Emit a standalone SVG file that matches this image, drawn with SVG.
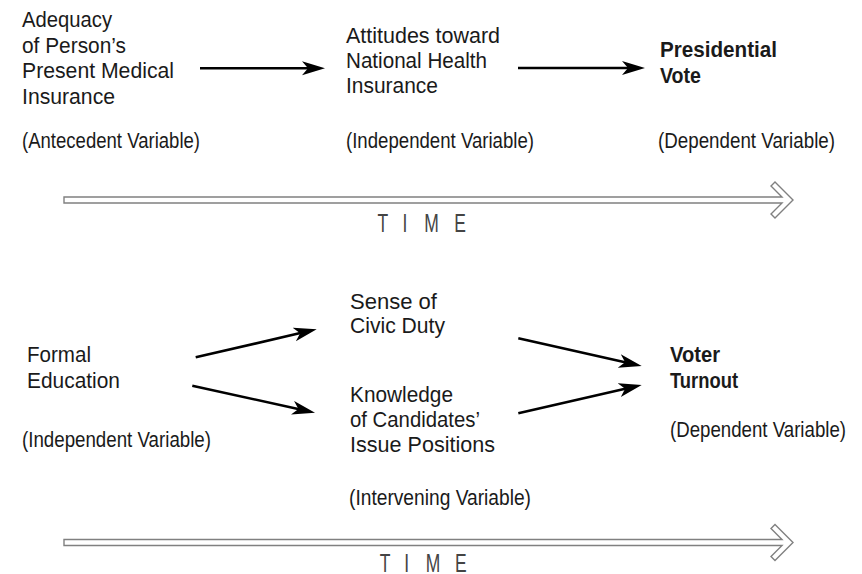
<svg xmlns="http://www.w3.org/2000/svg" width="862" height="574" viewBox="0 0 862 574">
<style>
.t{font-family:"Liberation Sans",Arial,sans-serif;font-size:22px;fill:#1a1a1a}
.b{font-weight:bold}
.tm{font-family:"Liberation Sans",Arial,sans-serif;font-size:25px;fill:#444;text-anchor:middle}
.c{stroke:#000;stroke-width:2.6;fill:none}
.ta{fill:#fff;stroke:#808080;stroke-width:1.4;stroke-linejoin:miter}
</style>
<defs>
<marker id="ah" markerUnits="userSpaceOnUse" markerWidth="26" markerHeight="16" refX="15" refY="7" orient="auto">
<path d="M0,0 L23,7 L0,14 L6,7 Z" fill="#000"/>
</marker>
<path id="timearrow" d="M64,-3 L782,-3 L771,-14 L775,-18 L793,0 L775,18 L771,14 L782,3 L64,3 Z"/>
</defs>
<rect width="862" height="574" fill="#fff"/>

<g id="adequacy">
<text class="t" x="22" y="27.3" textLength="90" lengthAdjust="spacingAndGlyphs">Adequacy</text>
<text class="t" x="22" y="52.7" textLength="104" lengthAdjust="spacingAndGlyphs">of Person’s</text>
<text class="t" x="22" y="78.3" textLength="152" lengthAdjust="spacingAndGlyphs">Present Medical</text>
<text class="t" x="22" y="103.5" textLength="93" lengthAdjust="spacingAndGlyphs">Insurance</text>
<text class="t" x="22" y="148" textLength="178" lengthAdjust="spacingAndGlyphs">(Antecedent Variable)</text>
</g>
<g id="attitudes">
<text class="t" x="346" y="42.7" textLength="154" lengthAdjust="spacingAndGlyphs">Attitudes toward</text>
<text class="t" x="346" y="67.5" textLength="141" lengthAdjust="spacingAndGlyphs">National Health</text>
<text class="t" x="346" y="92.5" textLength="92" lengthAdjust="spacingAndGlyphs">Insurance</text>
<text class="t" x="346" y="148" textLength="188" lengthAdjust="spacingAndGlyphs">(Independent Variable)</text>
</g>
<g id="presidential">
<text class="t b" x="660" y="56.7" textLength="117" lengthAdjust="spacingAndGlyphs">Presidential</text>
<text class="t b" x="660" y="83" textLength="41" lengthAdjust="spacingAndGlyphs">Vote</text>
<text class="t" x="658" y="148" textLength="177" lengthAdjust="spacingAndGlyphs">(Dependent Variable)</text>
</g>

<g id="education">
<text class="t" x="27" y="362.3" textLength="64" lengthAdjust="spacingAndGlyphs">Formal</text>
<text class="t" x="27" y="388.3" textLength="93" lengthAdjust="spacingAndGlyphs">Education</text>
<text class="t" x="22" y="446.7" textLength="189" lengthAdjust="spacingAndGlyphs">(Independent Variable)</text>
</g>
<g id="civic">
<text class="t" x="350" y="309" textLength="87" lengthAdjust="spacingAndGlyphs">Sense of</text>
<text class="t" x="350" y="333.3" textLength="95" lengthAdjust="spacingAndGlyphs">Civic Duty</text>
</g>
<g id="knowledge">
<text class="t" x="350" y="401.7" textLength="103" lengthAdjust="spacingAndGlyphs">Knowledge</text>
<text class="t" x="350" y="426.7" textLength="130" lengthAdjust="spacingAndGlyphs">of Candidates’</text>
<text class="t" x="350" y="451.7" textLength="145" lengthAdjust="spacingAndGlyphs">Issue Positions</text>
</g>
<g id="intervening">
<text class="t" x="349" y="505" textLength="182" lengthAdjust="spacingAndGlyphs">(Intervening Variable)</text>
</g>
<g id="turnout">
<text class="t b" x="670" y="361.7" textLength="50" lengthAdjust="spacingAndGlyphs">Voter</text>
<text class="t b" x="670" y="388.3" textLength="68" lengthAdjust="spacingAndGlyphs">Turnout</text>
<text class="t" x="670" y="436.7" textLength="176" lengthAdjust="spacingAndGlyphs">(Dependent Variable)</text>
</g>

<g id="connectors">
<path class="c" d="M200,68.3 L317,68.3" marker-end="url(#ah)"/>
<path class="c" d="M518,68 L637,68" marker-end="url(#ah)"/>
<path class="c" d="M195.7,357.3 L308.9,331.1" marker-end="url(#ah)"/>
<path class="c" d="M192.3,385.7 L307.2,411" marker-end="url(#ah)"/>
<path class="c" d="M518.3,338.3 L633.9,364.25" marker-end="url(#ah)"/>
<path class="c" d="M518.3,413.3 L633.9,386.8" marker-end="url(#ah)"/>
</g>

<g id="time-top">
<use href="#timearrow" class="ta" transform="translate(0,200)"/>
<g transform="translate(0,231.5) scale(0.7,1)">
<text class="tm" x="547.1" y="0">T</text>
<text class="tm" x="578.6" y="0">I</text>
<text class="tm" x="616.4" y="0">M</text>
<text class="tm" x="657.1" y="0">E</text>
</g>
</g>
<g id="time-bottom">
<use href="#timearrow" class="ta" transform="translate(0,542.5)"/>
<g transform="translate(0,572) scale(0.7,1)">
<text class="tm" x="550" y="0">T</text>
<text class="tm" x="581" y="0">I</text>
<text class="tm" x="618.5" y="0">M</text>
<text class="tm" x="658.5" y="0">E</text>
</g>
</g>
</svg>
